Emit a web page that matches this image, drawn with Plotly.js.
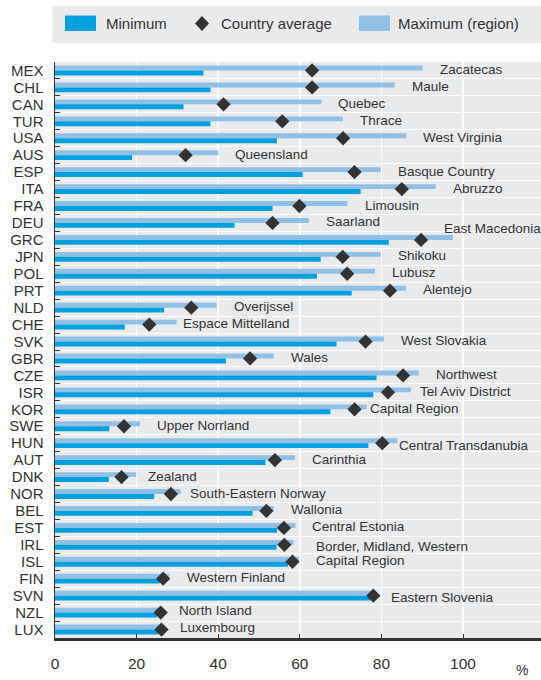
<!DOCTYPE html>
<html>
<head>
<meta charset="utf-8">
<script src="https://cdn.plot.ly/plotly-3.0.1.min.js"></script>
<style>html,body{margin:0;padding:0;background:#fff;}#chart{width:541px;height:680px;}</style>
</head>
<body>
<div id="chart"></div>
<script>
const countries = ["MEX","CHL","CAN","TUR","USA","AUS","ESP","ITA","FRA","DEU","GRC","JPN","POL","PRT","NLD","CHE","SVK","GBR","CZE","ISR","KOR","SWE","HUN","AUT","DNK","NOR","BEL","EST","IRL","ISL","FIN","SVN","NZL","LUX"];
const regions = ["Zacatecas","Maule","Quebec","Thrace","West Virginia","Queensland","Basque Country","Abruzzo","Limousin","Saarland","East Macedonia","Shikoku","Lubusz","Alentejo","Overijssel","Espace Mittelland","West Slovakia","Wales","Northwest","Tel Aviv District","Capital Region","Upper Norrland","Central Transdanubia","Carinthia","Zealand","South-Eastern Norway","Wallonia","Central Estonia","Border, Midland, Western","Capital Region","Western Finland","Eastern Slovenia","North Island","Luxembourg"];
const minimum = [36.4,38.1,31.5,38.1,54.4,18.9,60.7,74.9,53.3,44.0,81.8,65.1,64.2,72.7,26.7,17.1,69.0,41.9,78.8,78.0,67.5,13.3,76.8,51.6,13.2,24.3,48.4,54.4,54.3,57.1,25.7,77.3,25.0,25.3];
const average = [63.0,63.0,41.3,55.7,70.6,32.0,73.4,85.0,59.9,53.3,89.7,70.5,71.6,82.1,33.4,23.1,76.1,47.8,85.3,81.6,73.4,16.9,80.2,53.9,16.3,28.4,51.8,56.1,56.2,58.2,26.5,78.0,25.9,26.1];
const maximum = [90.1,83.2,65.3,70.5,86.1,40.0,79.8,93.3,71.7,62.2,97.5,79.8,78.4,86.0,39.6,29.8,80.6,53.6,89.1,87.2,76.4,20.8,83.9,58.8,19.9,30.8,53.6,58.9,58.5,59.8,28.0,77.8,25.6,25.8];
const xTicks = [0,20,40,60,80,100];

// label placement tweaks (pixels)
const labelDx = {GRC:-11, CHE:4, ISR:7, KOR:1, HUN:0, DNK:10, NOR:7, IRL:20, FIN:16, NZL:18, LUX:18, SVN:17};
const labelDy = {GRC:11, HUN:-2, SVN:-2, IRL:-2, NZL:2, LUX:2};

const FONT = "'Liberation Sans', Arial, Helvetica, sans-serif";
const TXT = '#333333';
const DARK = '#00a1dc', LIGHT = '#90c0e5', BG = '#e9eaec';

const W = 541, H = 680, ML = 55, MR = 0, MT = 62, MB = 42;
const PW = W - ML - MR, PH = H - MT - MB;
const px = x => (x - ML) / PW;
const py = y => (H - MB - y) / PH;

const traces = [
  {type:'bar', orientation:'h', name:'Maximum (region)', y:countries, x:maximum, marker:{color:LIGHT}, hoverinfo:'x'},
  {type:'bar', orientation:'h', name:'Minimum', y:countries, x:minimum, marker:{color:DARK}, hoverinfo:'x'},
  {type:'scatter', mode:'markers', name:'Country average', y:countries, x:average,
   marker:{symbol:'diamond', size:11, color:'#333333'}, hoverinfo:'x'}
];

const annotations = countries.map((c,i) => ({
  x: maximum[i], y: c, xref:'x', yref:'y', text: regions[i], showarrow:false,
  xanchor:'left', yanchor:'middle',
  xshift: (labelDx[c] !== undefined ? labelDx[c] : 15),
  yshift: (labelDy[c] !== undefined ? labelDy[c] : 1),
  font:{family:FONT, size:13.5, color:TXT}
}));

// legend texts and axis unit
annotations.push(
  {xref:'paper', yref:'paper', x:px(104), y:py(23.5), xanchor:'left', yanchor:'middle', text:'Minimum', showarrow:false, font:{family:FONT, size:15, color:TXT}},
  {xref:'paper', yref:'paper', x:px(219), y:py(23.5), xanchor:'left', yanchor:'middle', text:'Country average', showarrow:false, font:{family:FONT, size:15, color:TXT}},
  {xref:'paper', yref:'paper', x:px(396), y:py(23.5), xanchor:'left', yanchor:'middle', text:'Maximum (region)', showarrow:false, font:{family:FONT, size:15, color:TXT}},
  {xref:'paper', yref:'paper', x:px(522), y:py(670), xanchor:'center', yanchor:'middle', text:'%', showarrow:false, font:{family:FONT, size:14, color:TXT}}
);

const dc = {x:202, y:23.5}, dh = 7, dv = 7.5;
const shapes = [
  {type:'rect', xref:'paper', yref:'paper', x0:px(52.5), x1:px(541), y0:py(43), y1:py(6), fillcolor:BG, line:{width:0}, layer:'below'},
  {type:'rect', xref:'paper', yref:'paper', x0:px(65), x1:px(96), y0:py(31), y1:py(15.5), fillcolor:DARK, line:{width:0}},
  {type:'rect', xref:'paper', yref:'paper', x0:px(359), x1:px(390), y0:py(31), y1:py(15.5), fillcolor:LIGHT, line:{width:0}},
  {type:'path', xref:'paper', yref:'paper',
   path:`M ${px(dc.x-dh)},${py(dc.y)} L ${px(dc.x)},${py(dc.y-dv)} L ${px(dc.x+dh)},${py(dc.y)} L ${px(dc.x)},${py(dc.y+dv)} Z`,
   fillcolor:'#333333', line:{width:0}}
];

const layout = {
  width:W, height:H,
  margin:{l:ML, r:MR, t:MT, b:MB, pad:0, autoexpand:false},
  paper_bgcolor:'#ffffff', plot_bgcolor:BG,
  showlegend:false,
  barmode:'group', bargap:0.42, bargroupgap:0,
  font:{family:FONT, color:TXT},
  xaxis:{
    range:[0,119.1], tickmode:'array', tickvals:xTicks, ticktext:xTicks.map(String),
    automargin:false,
    showgrid:true, gridcolor:'#ffffff', gridwidth:1.5, zeroline:false,
    showline:true, linecolor:'#333333', linewidth:2.5,
    ticks:'inside', ticklen:4, tickwidth:1, tickcolor:'#333333',
    tickfont:{family:FONT, size:15.5, color:TXT}, ticklabelstandoff:10, fixedrange:true
  },
  yaxis:{
    type:'category', range:[33.5,-0.5], autorange:false, automargin:false,
    tickmode:'array', tickvals:countries, ticktext:countries, tickson:'boundaries',
    showgrid:true, gridcolor:'#ffffff', gridwidth:1,
    showline:true, linecolor:'#333333', linewidth:1.5,
    ticks:'inside', ticklen:5, tickwidth:1, tickcolor:'#333333',
    tickfont:{family:FONT, size:15, color:TXT}, ticklabelstandoff:7, fixedrange:true
  },
  annotations:annotations,
  shapes:shapes
};

Plotly.newPlot('chart', traces, layout, {displayModeBar:false, staticPlot:true});
</script>
</body>
</html>
